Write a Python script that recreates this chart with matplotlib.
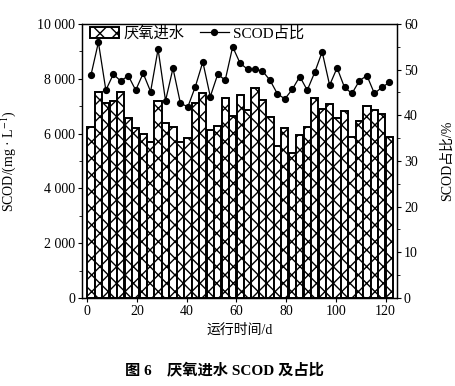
import matplotlib
matplotlib.use("Agg")
import matplotlib.pyplot as plt
from matplotlib.lines import Line2D
from matplotlib.patches import Patch
from matplotlib.ticker import FuncFormatter, MultipleLocator

plt.rcParams["font.family"] = ["Liberation Serif", "Noto Sans CJK SC", "DejaVu Sans"]
plt.rcParams["mathtext.fontset"] = "stix"
plt.rcParams["hatch.linewidth"] = 1.0

# sampling day of each measurement (d)
days = [1.5, 4.5, 7.5, 10.5, 13.5, 16.5, 19.5, 22.5, 25.5, 28.5,
        31.5, 34.5, 37.5, 40.5, 43.5, 46.5, 49.5, 52.5, 55.5, 58.5,
        61.5, 64.5, 67.5, 70.5, 73.5, 76.5, 79.5, 82.5, 85.5, 88.5,
        91.5, 94.5, 97.5, 100.5, 103.5, 106.5, 109.5, 112.5, 115.5, 118.5,
        121.5]

# anaerobic influent SCOD (mg/L)
scod = [6250, 7530, 7100, 7200, 7530, 6580, 6190, 5990, 5680, 7200,
        6400, 6230, 5680, 5830, 7100, 7500, 6130, 6290, 7310, 6650,
        7410, 6860, 7650, 7230, 6590, 5560, 6220, 5280, 5940, 6250,
        7310, 6900, 7070, 6560, 6820, 5890, 6460, 7000, 6860, 6700,
        5860]

# SCOD share (%)
ratio = [48.8, 56.0, 45.5, 49.0, 47.5, 48.7, 45.5, 49.2, 45.2, 54.5,
         43.2, 50.3, 42.6, 41.9, 46.3, 51.7, 44.1, 49.0, 47.7, 55.0,
         51.4, 50.1, 50.1, 49.7, 47.7, 44.7, 43.6, 45.7, 48.5, 45.5,
         49.4, 53.9, 46.6, 50.4, 46.1, 44.8, 47.6, 48.7, 44.8, 46.1,
         47.2]

fig = plt.figure(figsize=(4.56, 3.86), dpi=100)
ax = fig.add_axes([82 / 456, 88 / 386, 315 / 456, 274 / 386])
ax2 = ax.twinx()

ax.bar(days, scod, width=2.9, color="white", edgecolor="black",
       linewidth=1.4, hatch="xx")
ax2.plot(days, ratio, color="black", lw=0.9, marker="o", ms=4.2)

ax.set_xlim(-2.1, 124.6)
ax.set_ylim(0, 10000)
ax2.set_ylim(0, 60)

ax.xaxis.set_major_locator(MultipleLocator(20))
ax.yaxis.set_major_locator(MultipleLocator(2000))
ax.yaxis.set_minor_locator(MultipleLocator(1000))
ax2.yaxis.set_major_locator(MultipleLocator(10))
ax2.yaxis.set_minor_locator(MultipleLocator(5))
ax.yaxis.set_major_formatter(FuncFormatter(lambda v, p: f"{int(v):,}".replace(",", " ")))

for a in (ax, ax2):
    a.tick_params(axis="both", which="major", direction="out", length=3,
                  width=0.8, labelsize=10, pad=2)
    a.tick_params(axis="both", which="minor", direction="out", length=2, width=0.6)
    for s in a.spines.values():
        s.set_linewidth(0.9)

ax.set_xlabel("运行时间/d", fontsize=10)
ax.set_ylabel(r"SCOD/(mg · L$^{-1}$)", fontsize=10)
ax2.set_ylabel("SCOD占比/%", fontsize=10)
ax.yaxis.set_label_coords(-0.203, 0.5)
ax2.yaxis.set_label_coords(1.137, 0.5)

handles = [
    Patch(facecolor="white", edgecolor="black", hatch="xx", linewidth=1.4),
    Line2D([], [], color="black", lw=0.9, marker="o", ms=4.2),
]
ax2.legend(handles, ["厌氧进水", "SCOD占比"], loc="upper left", ncol=2,
           frameon=False, fontsize=11, bbox_to_anchor=(0.0, 1.02),
           borderaxespad=0.1, handlelength=1.9, handleheight=0.8,
           handletextpad=0.3, columnspacing=1.0)

fig.text(0.493, 0.042, "图 6　厌氧进水 SCOD 及占比", ha="center", va="center",
         fontsize=11, fontweight="bold")

fig.savefig("out.png", dpi=100)
